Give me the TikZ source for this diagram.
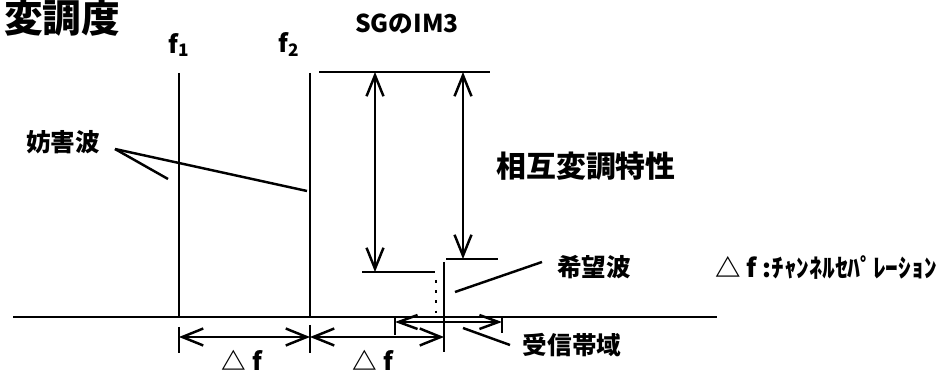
\documentclass[tikz,border=0pt]{standalone}
\usepackage{fontspec}
\setmainfont{Noto Sans CJK JP}
\usepackage{tikz}
\usetikzlibrary{arrows.meta,positioning}

\begin{document}
\begin{tikzpicture}[x=0.02cm,y=-0.02cm,
  ln/.style={line width=1.6pt},
  lead/.style={line width=1.4pt},
  dimarr/.style={line width=1.4pt,
    {Straight Barb[length=4.2mm,width=3.4mm]}-{Straight Barb[length=4.2mm,width=3.4mm]}},
  bandarr/.style={line width=1.4pt,
    {Straight Barb[length=3.8mm,width=2.8mm]}-{Straight Barb[length=3.8mm,width=2.8mm]}},
  tick/.style={line width=1.4pt},
  lbl/.style={inner sep=0pt,font=\fontsize{14pt}{16pt}\selectfont\bfseries}]
  \useasboundingbox (0,0) rectangle (951,371);
  % spectrum points
  \coordinate (o1) at (179,317);  \coordinate (t1) at (179,73);
  \coordinate (o2) at (310,317);  \coordinate (t2) at (310,73);
  \coordinate (od) at (444,352);  \coordinate (td) at (444,262);
  \coordinate (imtop) at (375,72); \coordinate (imlow) at (375,272);
  \coordinate (imtop2) at (463,72); \coordinate (imlow2) at (463,259);
  % labels
  \node[lbl,font=\fontsize{22pt}{24pt}\selectfont\bfseries] (title) at (62,18) {変調度};
  \node[lbl] (sg) at (407,24) {SGのIM3};
  \node[lbl,above=9pt of t1] (f1) {f\textsubscript{1}};
  \node[lbl,above=9pt of t2,xshift=-12] (f2) {f\textsubscript{2}};
  \node[lbl] (jam) at (63,142) {妨害波};
  \node[lbl,font=\fontsize{17pt}{19pt}\selectfont\bfseries] (imd) at (586,166) {相互変調特性};
  \node[lbl] (want) at (594,267) {希望波};
  \node[lbl] (band) at (572,345) {受信帯域};
  \node[lbl,font=\fontsize{14.5pt}{16pt}\selectfont\bfseries] (sep) at (826,268) {△ f :ﾁｬﾝﾈﾙｾﾊﾟﾚｰｼｮﾝ};
  \node[lbl] (df1) at (242,360) {△ f};
  \node[lbl] (df2) at (373,360) {△ f};
  % axis and carriers
  \draw[ln] (13,317) -- (717,317);
  \draw[ln] (t1) -- (o1);
  \draw[ln] (t2) -- (o2);
  \draw[ln] (td) -- (od);
  \draw[ln] (319,72) -- (490,72);
  \draw[ln] (362,272) -- (435,272);
  \draw[ln] (446,259) -- (498,259);
  \draw[ln,dash pattern=on 1.6pt off 4.2pt] (436,280) -- (436,314);
  % IM3 level arrows
  \draw[dimarr] (imtop) -- (imlow);
  \draw[dimarr] (imtop2) -- (imlow2);
  % channel separation
  \draw[tick] (179,327) -- (179,353);
  \draw[tick] (310,325) -- (310,353);
  \draw[dimarr] (179,337) -- (310,337);
  \draw[dimarr] (310,337) -- (444,337);
  % receive band
  \draw[tick] (395,318) -- (395,335);
  \draw[tick] (502,318) -- (502,333);
  \draw[bandarr] (395,322) -- (502,322);
  % leaders
  \coordinate (jamtip) at (115,149);
  \draw[lead] (jamtip) -- (168,179);
  \draw[lead] (jamtip) -- (307,191);
  \draw[lead] (455,292) -- (542,262);
  \draw[lead] (463,328) -- (510,345);
\end{tikzpicture}
\end{document}
